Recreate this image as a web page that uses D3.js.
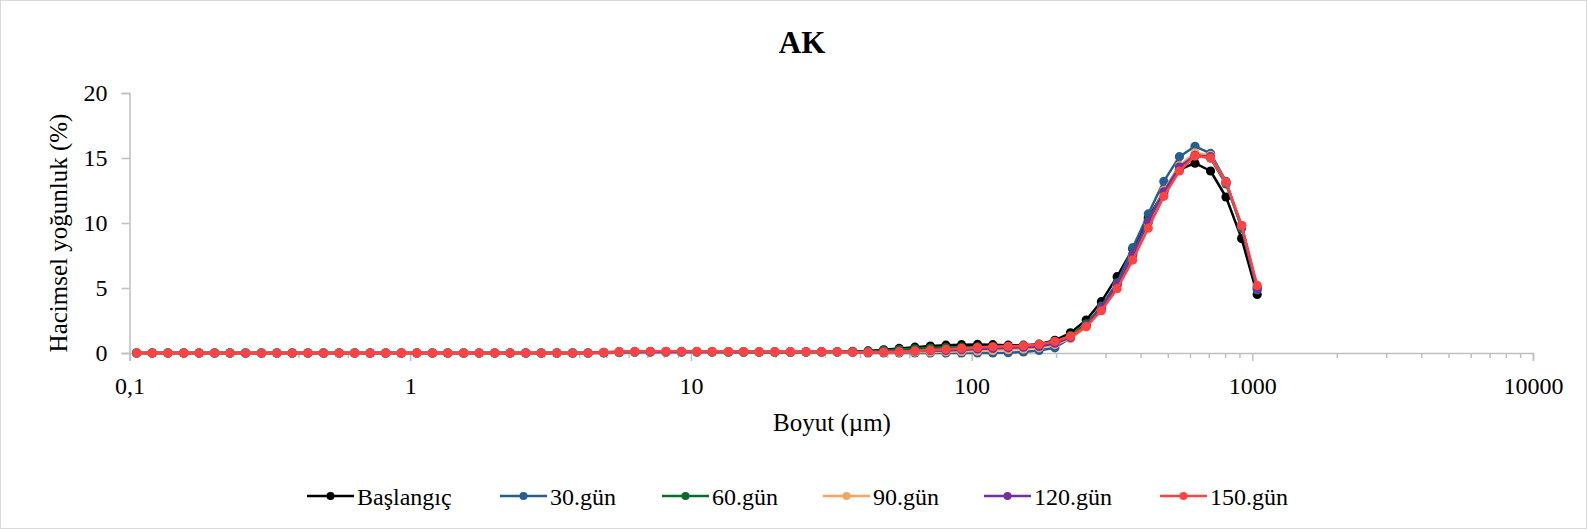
<!DOCTYPE html>
<html>
<head>
<meta charset="utf-8">
<script src="https://cdn.jsdelivr.net/npm/d3@7"></script>
<style>
  html, body { margin: 0; padding: 0; background: #fff; }
  svg { display: block; }
  text { font-family: "Liberation Serif", "Times New Roman", serif; fill: #000; }
</style>
</head>
<body>
<svg id="chart" width="1587" height="529"></svg>
<script>
// Particle size classes (µm), geometric mid-points of the analyser bins
const sizes = [
  0.106, 0.1205, 0.137, 0.156, 0.177, 0.201, 0.228, 0.259, 0.295, 0.335,
  0.380, 0.432, 0.491, 0.558, 0.634, 0.720, 0.818, 0.930, 1.056, 1.20,
  1.36, 1.55, 1.76, 2.00, 2.27, 2.58, 2.93, 3.33, 3.79, 4.30,
  4.89, 5.55, 6.31, 7.17, 8.15, 9.26, 10.5, 11.9, 13.6, 15.4,
  17.5, 19.9, 22.6, 25.7, 29.2, 33.2, 37.7, 42.8, 48.6, 55.2,
  62.8, 71.3, 81.0, 92.1, 105, 119, 135, 153, 174, 198,
  225, 256, 290, 330, 375, 426, 484, 550, 625, 710,
  806, 916, 1041
];

// Volume density (%) per size class
const baslangic = [
  0, 0, 0, 0, 0, 0, 0, 0, 0, 0,
  0, 0, 0, 0, 0, 0, 0, 0, 0, 0,
  0, 0, 0, 0, 0, 0, 0, 0, 0, 0,
  0.02, 0.05, 0.08, 0.10, 0.10, 0.10, 0.10, 0.09, 0.08, 0.07,
  0.06, 0.06, 0.06, 0.07, 0.08, 0.10, 0.12, 0.16, 0.25, 0.35,
  0.45, 0.53, 0.60, 0.64, 0.66, 0.64, 0.60, 0.60, 0.68, 0.98,
  1.55, 2.54, 3.95, 5.87, 8.00, 10.40, 12.40, 14.10, 14.60, 14.00,
  12.00, 8.80, 4.50
];
const gun30 = [
  0, 0, 0, 0, 0, 0, 0, 0, 0, 0,
  0, 0, 0, 0, 0, 0, 0, 0, 0, 0,
  0, 0, 0, 0, 0, 0, 0, 0, 0, 0,
  0, 0.02, 0.05, 0.05, 0.05, 0.05, 0.05, 0.05, 0.05, 0.05,
  0.05, 0.05, 0.05, 0.05, 0.05, 0.05, 0.03, 0, 0, 0,
  0, 0, 0, 0, 0, 0, 0.02, 0.08, 0.20, 0.40,
  1.15, 2.20, 3.60, 5.40, 8.10, 10.70, 13.20, 15.10, 15.90, 15.35,
  13.20, 9.60, 4.85
];
const gun60 = [
  0, 0, 0, 0, 0, 0, 0, 0, 0, 0,
  0, 0, 0, 0, 0, 0, 0, 0, 0, 0,
  0, 0, 0, 0, 0, 0, 0, 0, 0, 0,
  0.03, 0.07, 0.09, 0.10, 0.10, 0.10, 0.10, 0.08, 0.08, 0.08,
  0.08, 0.08, 0.08, 0.08, 0.08, 0.08, 0.10, 0.14, 0.20, 0.26,
  0.32, 0.38, 0.42, 0.45, 0.47, 0.48, 0.48, 0.50, 0.58, 0.85,
  1.35, 2.25, 3.50, 5.30, 7.60, 10.20, 12.50, 14.40, 15.20, 15.00,
  13.00, 9.70, 5.00
];
const gun90 = [
  0, 0, 0, 0, 0, 0, 0, 0, 0, 0,
  0, 0, 0, 0, 0, 0, 0, 0, 0, 0,
  0, 0, 0, 0, 0, 0, 0, 0, 0, 0,
  0.04, 0.08, 0.08, 0.08, 0.08, 0.08, 0.08, 0.08, 0.08, 0.08,
  0.08, 0.08, 0.08, 0.08, 0.08, 0.08, 0.06, 0.05, 0.05, 0.06,
  0.07, 0.08, 0.10, 0.12, 0.15, 0.20, 0.25, 0.30, 0.40, 0.65,
  1.10, 2.00, 3.40, 5.20, 7.50, 10.00, 12.50, 14.40, 15.40, 15.20,
  13.10, 9.80, 5.10
];
const gun120 = [
  0, 0, 0, 0, 0, 0, 0, 0, 0, 0,
  0, 0, 0, 0, 0, 0, 0, 0, 0, 0,
  0, 0, 0, 0, 0, 0, 0, 0, 0, 0,
  0.05, 0.10, 0.10, 0.10, 0.10, 0.10, 0.10, 0.10, 0.10, 0.10,
  0.10, 0.10, 0.10, 0.10, 0.10, 0.09, 0.08, 0.08, 0.10, 0.12,
  0.15, 0.18, 0.20, 0.25, 0.30, 0.35, 0.40, 0.45, 0.50, 0.75,
  1.20, 2.10, 3.45, 5.25, 7.55, 10.10, 12.40, 14.30, 15.20, 15.10,
  13.10, 9.80, 5.00
];
const gun150 = [
  0, 0, 0, 0, 0, 0, 0, 0, 0, 0,
  0, 0, 0, 0, 0, 0, 0, 0, 0, 0,
  0, 0, 0, 0, 0, 0, 0, 0, 0, 0,
  0.05, 0.10, 0.12, 0.13, 0.13, 0.13, 0.12, 0.12, 0.11, 0.11,
  0.10, 0.10, 0.10, 0.10, 0.10, 0.09, 0.07, 0.06, 0.07, 0.10,
  0.16, 0.22, 0.28, 0.35, 0.42, 0.48, 0.52, 0.56, 0.66, 0.90,
  1.28, 2.03, 3.25, 4.95, 7.15, 9.60, 12.05, 14.00, 15.15, 15.00,
  13.15, 9.80, 5.20
];

const seriesNames = ["Başlangıç", "30.gün", "60.gün", "90.gün", "120.gün", "150.gün"];
const seriesValues = [baslangic, gun30, gun60, gun90, gun120, gun150];
const seriesColors = ["#000000", "#255e91", "#0b6b2e", "#f5a55f", "#7030a0", "#ff4343"];

const xTickValues = [0.1, 1, 10, 100, 1000, 10000];
const xTickLabels = ["0,1", "1", "10", "100", "1000", "10000"];
const yTickValues = [0, 5, 10, 15, 20];

const chartTitle = "AK";
const xTitle = "Boyut (µm)";
const yTitle = "Hacimsel yoğunluk (%)";

// ---- layout ----
const svg = d3.select("#chart");
const W = 1587, H = 529;
const plot = { left: 129.5, right: 1533, top: 93, bottom: 353 };

svg.append("rect").attr("x", 0.5).attr("y", 0.5).attr("width", W - 1).attr("height", H - 1)
  .attr("fill", "#fff").attr("stroke", "#d9d9d9");

const x = d3.scaleLog().domain([0.1, 10000]).range([plot.left, plot.right]);
const y = d3.scaleLinear().domain([0, 20]).range([plot.bottom, plot.top]);

const axisColor = "#bfbfbf";

// y axis
const yAxis = svg.append("g").attr("transform", `translate(${plot.left},0)`)
  .call(d3.axisLeft(y).tickValues(yTickValues).tickSize(8).tickPadding(14).tickFormat(d3.format("d")));
yAxis.select(".domain").attr("stroke", axisColor).attr("stroke-width", 1.5);
yAxis.selectAll(".tick line").attr("stroke", axisColor).attr("stroke-width", 1.5);
yAxis.selectAll(".tick text").attr("font-size", 24).attr("font-family", "Liberation Serif").attr("fill", "#000");

// x axis: minor ticks at 2..9 of each decade, longer ticks at the decades
const minor = [];
for (let e = -1; e < 4; e++) for (let m = 2; m <= 9; m++) minor.push(m * Math.pow(10, e));
const xMinor = svg.append("g").attr("transform", `translate(0,${plot.bottom})`)
  .call(d3.axisBottom(x).tickValues(minor).tickSize(5).tickFormat(""));
xMinor.select(".domain").remove();
xMinor.selectAll(".tick line").attr("stroke", axisColor).attr("stroke-width", 1.5);

const xAxis = svg.append("g").attr("transform", `translate(0,${plot.bottom})`)
  .call(d3.axisBottom(x).tickValues(xTickValues).tickSize(8).tickPadding(16)
    .tickFormat((d, i) => xTickLabels[i]));
xAxis.select(".domain").attr("stroke", axisColor).attr("stroke-width", 1.5);
xAxis.selectAll(".tick line").attr("stroke", axisColor).attr("stroke-width", 1.5);
xAxis.selectAll(".tick text").attr("font-size", 24).attr("font-family", "Liberation Serif").attr("fill", "#000");

// titles
svg.append("text").attr("x", 802).attr("y", 53).attr("text-anchor", "middle")
  .attr("font-size", 31).attr("font-weight", "bold").text(chartTitle);
svg.append("text").attr("x", 832).attr("y", 431).attr("text-anchor", "middle")
  .attr("font-size", 25).text(xTitle);
svg.append("text").attr("transform", `translate(67,233) rotate(-90)`).attr("text-anchor", "middle")
  .attr("font-size", 25).text(yTitle);

// series lines and markers
const line = d3.line().x((d, i) => x(sizes[i])).y(d => y(d));
const series = svg.append("g");
seriesValues.forEach((vals, s) => {
  const g = series.append("g");
  g.append("path").datum(vals).attr("d", line).attr("fill", "none")
    .attr("stroke", seriesColors[s]).attr("stroke-width", 2.5).attr("stroke-linejoin", "round");
  g.selectAll("circle").data(vals).join("circle")
    .attr("cx", (d, i) => x(sizes[i])).attr("cy", d => y(d)).attr("r", 4.6)
    .attr("fill", seriesColors[s]);
});

// legend
const legendX = [307, 500, 662, 823, 984, 1160];
const legendY = 496;
const legend = svg.append("g");
seriesNames.forEach((name, s) => {
  const g = legend.append("g").attr("transform", `translate(${legendX[s]},${legendY})`);
  g.append("line").attr("x1", 0).attr("x2", 47).attr("y1", 0).attr("y2", 0)
    .attr("stroke", seriesColors[s]).attr("stroke-width", 2.5);
  g.append("circle").attr("cx", 23.5).attr("cy", 0).attr("r", 4).attr("fill", seriesColors[s]);
  g.append("text").attr("x", 50).attr("y", 8.5).attr("font-size", 24).text(name);
});
</script>
</body>
</html>
